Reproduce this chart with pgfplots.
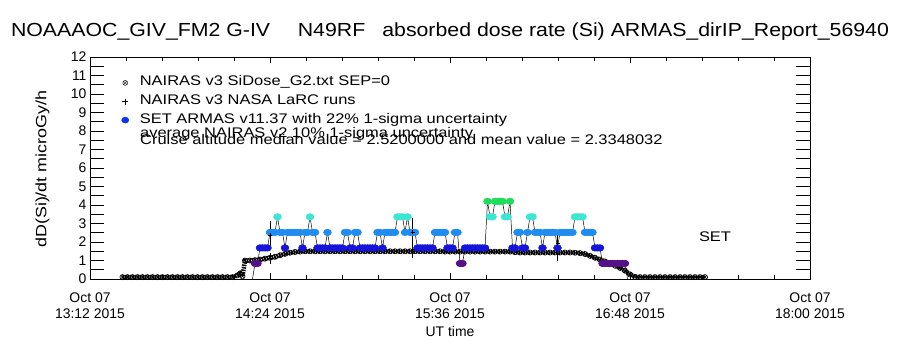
\documentclass[border=0pt]{standalone}
\usepackage{fontspec}
\setmainfont{Liberation Sans}
\usepackage{pgfplots}
\usepackage{pgfplotstable}
\pgfplotsset{compat=1.18}
\definecolor{purp}{RGB}{85,15,135}
\definecolor{dblue}{RGB}{20,20,220}
\definecolor{mblue}{RGB}{30,140,240}
\definecolor{cyanc}{RGB}{60,230,210}
\definecolor{greenc}{RGB}{30,220,90}
\definecolor{legblue}{RGB}{10,50,240}
\newcommand{\wide}[1]{\scalebox{1.18}[1]{#1}}

% NAIRAS v3 SiDose (minutes after 13:12 UT, microGy/h)
\pgfplotstableread{
t v
13 0.1
15 0.1
17 0.1
19 0.1
21 0.1
23 0.1
25 0.1
27 0.1
29 0.1
31 0.1
33 0.1
35 0.1
37 0.1
39 0.1
41 0.1
43 0.1
45 0.1
47 0.1
49 0.1
51 0.1
53 0.1
55 0.1
57 0.1
59 0.2
60 0.3
61 0.15
62 1.0
64 1.0
66 1.02
68 1.05
70 1.1
72 1.15
74 1.2
76 1.28
78 1.36
80 1.42
82 1.46
84 1.48
86 1.5
88 1.5
90 1.5
92 1.5
94 1.5
96 1.5
98 1.5
100 1.5
102 1.5
104 1.5
106 1.5
108 1.5
110 1.5
112 1.5
114 1.5
116 1.5
118 1.5
120 1.5
122 1.5
124 1.5
126 1.5
128 1.5
130 1.5
132 1.5
134 1.5
136 1.5
138 1.5
140 1.5
142 1.48
144 1.48
146 1.48
148 1.48
150 1.48
152 1.48
154 1.48
156 1.48
158 1.48
160 1.48
162 1.48
164 1.48
166 1.48
168 1.48
170 1.45
172 1.43
174 1.43
176 1.43
178 1.43
180 1.43
182 1.43
184 1.43
186 1.43
188 1.43
190 1.43
192 1.43
194 1.42
196 1.4
198 1.35
200 1.25
202 1.15
204 1.05
206 0.95
208 0.85
210 0.72
212 0.6
214 0.45
216 0.25
218 0.12
220 0.1
222 0.1
224 0.1
226 0.1
228 0.1
230 0.1
232 0.1
234 0.1
236 0.1
238 0.1
240 0.1
242 0.1
244 0.1
246 0.1
}\nairas

% NAIRAS v3 NASA LaRC runs with 1-sigma uncertainty
\pgfplotstableread{
t v e
72 2.38 0.54
72 1.12 0.07
129 2.54 0.54
129 1.50 0.15
187 1.95 0.43
187 1.32 0.13
}\larc

% SET ARMAS v11.37
\pgfplotstableread{
t v c
65 0 z
66 0.84 p
67 0.84 p
68 1.68 d
69 1.68 d
70 1.68 d
71 1.68 d
72 2.52 m
73 2.52 m
74 2.52 m
75 3.36 c
76 2.52 m
77 2.52 m
78 1.68 d
79 2.52 m
80 2.52 m
81 2.52 m
82 2.52 m
83 2.52 m
84 2.52 m
85 1.68 d
86 2.52 m
87 2.52 m
88 3.36 c
89 2.52 m
90 2.52 m
91 1.68 d
92 1.68 d
93 1.68 d
94 1.68 d
95 2.52 m
96 1.68 d
97 1.68 d
98 1.68 d
99 1.68 d
100 1.68 d
101 1.68 d
102 2.52 m
103 2.52 m
104 1.68 d
105 1.68 d
106 2.52 m
107 2.52 m
108 1.68 d
109 1.68 d
110 1.68 d
111 1.68 d
112 1.68 d
113 1.68 d
114 1.68 d
115 2.52 m
116 2.52 m
117 1.68 d
118 2.52 m
119 2.52 m
120 2.52 m
121 2.52 m
122 2.52 m
123 3.36 c
124 3.36 c
125 3.36 c
126 2.52 m
127 3.36 c
128 2.52 m
129 2.52 m
130 2.52 m
131 1.68 d
132 1.68 d
133 1.68 d
134 1.68 d
135 1.68 d
136 1.68 d
137 1.68 d
138 2.52 m
139 2.52 m
140 2.52 m
141 2.52 m
142 2.52 m
143 1.68 d
144 1.68 d
145 1.68 d
146 2.52 m
147 2.52 m
148 0.84 p
149 0.84 p
150 1.68 d
151 1.68 d
152 1.68 d
153 1.68 d
154 1.68 d
155 1.68 d
156 1.68 d
157 1.68 d
158 1.68 d
159 4.20 g
160 3.36 c
161 3.36 c
162 4.20 g
163 4.20 g
164 4.20 g
165 4.20 g
166 3.36 c
167 3.36 c
168 4.20 g
169 1.68 d
170 1.68 d
171 2.52 m
172 2.52 m
173 1.68 d
174 1.68 d
175 2.52 m
176 3.36 c
177 3.36 c
178 2.52 m
179 2.52 m
180 2.52 m
181 1.68 d
182 2.52 m
183 2.52 m
184 2.52 m
185 2.52 m
186 2.52 m
187 1.68 d
188 2.52 m
189 2.52 m
190 2.52 m
191 2.52 m
192 2.52 m
193 2.52 m
194 3.36 c
195 3.36 c
196 3.36 c
197 3.36 c
198 2.52 m
199 2.52 m
200 2.52 m
201 2.52 m
202 1.68 d
203 1.68 d
204 1.68 d
205 0.84 p
206 0.84 p
207 0.84 p
208 0.84 p
209 0.84 p
210 0.84 p
211 0.84 p
212 0.84 p
213 0.84 p
214 0.84 p
215 0 z
}\armas

\begin{document}
\begin{tikzpicture}
\path[use as bounding box] (-90bp,-71bp) rectangle (810bp,279bp);
\begin{axis}[
  at={(0,0)}, anchor=south west,
  scale only axis, width=720bp, height=222bp,
  xmin=0, xmax=288, ymin=0, ymax=12,
  xtick={0,72,144,216,288},
  xticklabels={{Oct 07\\13:12 2015},{Oct 07\\14:24 2015},{Oct 07\\15:36 2015},{Oct 07\\16:48 2015},{Oct 07\\18:00 2015}},
  minor x tick num=4,
  ytick={0,1,...,12},
  minor y tick num=1,
  tick align=inside,
  xtick pos=both, ytick pos=both,
  xtick style={/pgfplots/major tick length=6bp, /pgfplots/minor tick length=4bp, black, line width=0.6bp},
  ytick style={/pgfplots/major tick length=14bp, /pgfplots/minor tick length=14bp, black, line width=0.6bp},
  axis line style={line width=0.8bp},
  /pgf/number format/assume math mode=true,
  xticklabel style={align=center, font=\fontsize{14}{16}\selectfont, yshift=-10.5bp},
  yticklabel style={font=\fontsize{14}{16}\selectfont},
  xlabel={UT time},
  ylabel={\scalebox{1.2}[1]{dD(Si)/dt microGy/h}},
  every axis x label/.style={at={(axis description cs:0.5,-0.235)}, anchor=center, font=\fontsize{14}{16}\selectfont},
  every axis y label/.style={at={(axis description cs:-0.066,0.495)}, anchor=center, rotate=90, font=\fontsize{15}{16}\selectfont},
  title={\scalebox{1.125}[1]{NOAAAOC\_GIV\_FM2 G-IV\hspace{1.3em}N49RF\hspace{0.8em}absorbed dose rate (Si) ARMAS\_dirIP\_Report\_56940}},
  title style={at={(axis description cs:0.5,1)}, anchor=base, yshift=15bp, font=\fontsize{19}{21}\selectfont},
  legend style={at={(0.0437,0.926)}, anchor=north west, draw=none, fill=none, inner sep=0pt,
    font=\fontsize{14}{15}\selectfont,
    nodes={text height=9bp, text depth=3bp, inner ysep=3.3bp, inner xsep=3bp},
    column sep=8bp, row sep=0pt},
  legend cell align=left,
]
\addlegendimage{only marks, mark=otimes, mark size=2.5bp, black}
\addlegendentry{\wide{NAIRAS v3 SiDose\_G2.txt SEP=0}}
\addlegendimage{only marks, mark=+, mark size=3bp, black}
\addlegendentry{\wide{NAIRAS v3 NASA LaRC runs}}
\addlegendimage{only marks, mark=*, mark size=3bp, mark options={xscale=1.2}, legblue}
\addlegendentry{\wide{SET ARMAS v11.37 with 22\% 1-sigma uncertainty}}

\addplot[forget plot, no marks, black, line width=4.5bp, dash pattern=on 1.5bp off 1bp] table[x=t, y=v] {\nairas};
\addplot[forget plot, only marks, mark=otimes, mark size=2.6bp, line width=0.6bp, black] table[x=t, y=v] {\nairas};

\addplot[forget plot, black, line width=0.5bp,
  scatter, scatter src=explicit symbolic, mark=*, mark size=3.3bp,
  mark options={xscale=1.2},
  scatter/classes={
    z={mark=none},
    p={mark=*, draw=purp, fill=purp},
    d={mark=*, draw=dblue, fill=dblue},
    m={mark=*, draw=mblue, fill=mblue},
    c={mark=*, draw=cyanc, fill=cyanc},
    g={mark=*, draw=greenc, fill=greenc}}
  ] table[x=t, y=v, meta=c] {\armas};

\addplot[forget plot, only marks, black, mark=+, mark size=2bp, line width=0.6bp,
  error bars/.cd, y dir=both, y explicit,
  error bar style={line width=0.6bp, black},
  error mark options={mark size=4bp, line width=0.6bp, black}]
  table[x=t, y=v, y error=e] {\larc};

\node[anchor=base west, inner sep=0pt, font=\fontsize{14}{15}\selectfont] at (rel axis cs:0.0694,0.636) {\wide{average NAIRAS v2 10\% 1-sigma uncertainty}};
\node[anchor=base west, inner sep=0pt, font=\fontsize{14}{15}\selectfont] at (rel axis cs:0.0694,0.608) {\wide{Cruise altitude median value = 2.5200000 and mean value = 2.3348032}};
\node[anchor=center, font=\fontsize{14}{15}\selectfont] at (axis cs:250,2.27) {\wide{SET}};
\end{axis}
\end{tikzpicture}
\end{document}
